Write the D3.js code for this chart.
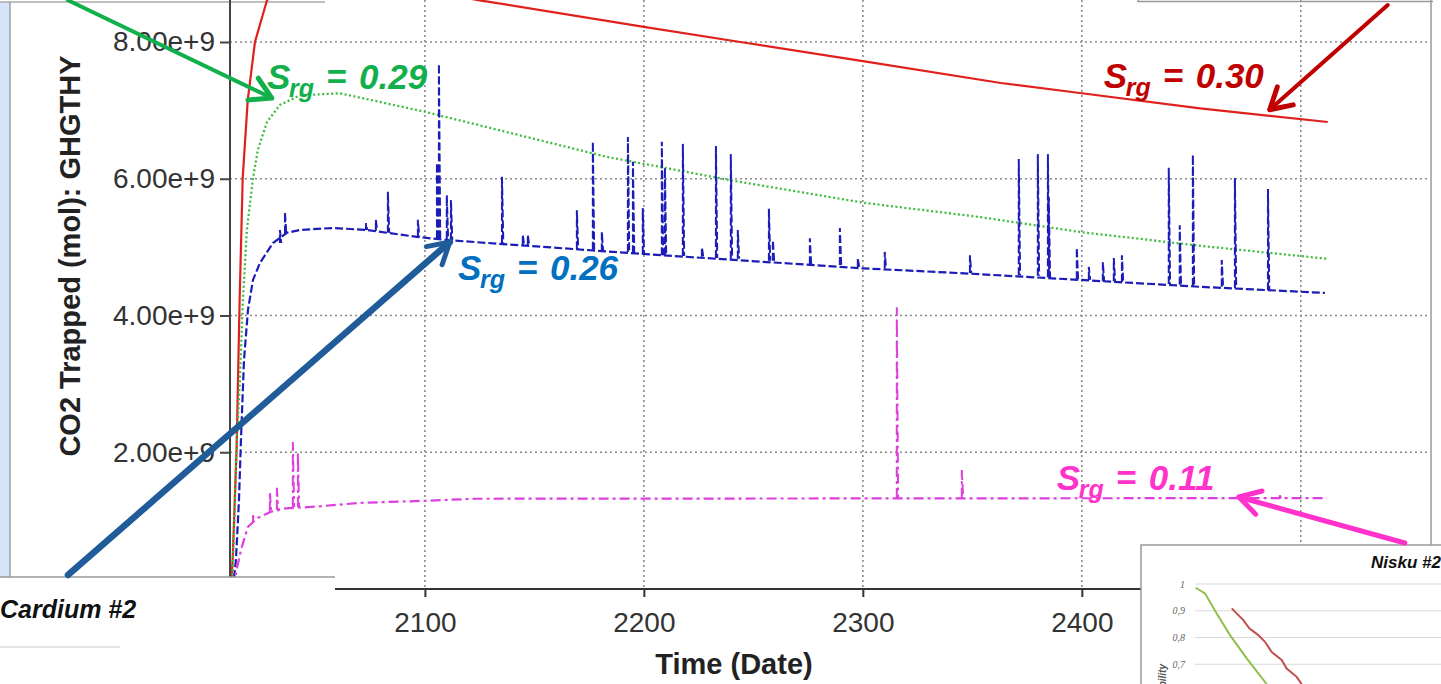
<!DOCTYPE html>
<html>
<head>
<meta charset="utf-8">
<script src="https://cdn.jsdelivr.net/npm/d3@7"></script>
<style>
  body { margin: 0; background: #fff; }
  svg { display: block; }
</style>
</head>
<body>
<svg id="chart" width="1441" height="684"></svg>
<script>
// ---- data (values in 1e9 mol, x in years) ----
const xTicks = [2100, 2200, 2300, 2400, 2500];
const yTicks = [2, 4, 6, 8];

// Srg = 0.30, solid red
const red030 = [
  [2011.3, 0], [2012.2, 0.42], [2014.0, 2.03], [2015.4, 4.23], [2016.8, 6.01],
  [2019.1, 7.15], [2022.4, 8.0], [2027.9, 8.61], [2040, 8.95], [2055, 9.0],
  [2075, 8.88], [2125, 8.61], [2200, 8.22], [2244, 8.0],
  [2300, 7.72], [2363, 7.40], [2400, 7.25], [2454, 7.03], [2512.3, 6.83]
];

// Srg = 0.29, dotted green
const green029 = [
  [2011.9, 0], [2013.0, 1.01], [2013.9, 2.03], [2015.5, 3.06], [2016.9, 4.23],
  [2018.7, 5.25], [2021.5, 6.01], [2023.7, 6.42], [2027.9, 6.83], [2033.8, 7.08],
  [2042.9, 7.22], [2061.2, 7.25], [2100, 6.98], [2183.1, 6.32], [2239.3, 5.98],
  [2300, 5.65], [2353.4, 5.44], [2399.5, 5.22], [2453.9, 5.02], [2511.9, 4.83]
];

// Srg = 0.26, dashed blue
const blue026 = [
  [2012.3, 0], [2013.7, 0.42], [2015.1, 1.30], [2016.0, 2.18], [2017.4, 3.35],
  [2019.2, 4.08], [2021.5, 4.52], [2024.7, 4.77], [2030.6, 5.06], [2037.0, 5.21],
  [2042.9, 5.25], [2058.0, 5.28], [2073.5, 5.25], [2096.3, 5.15], [2111.4, 5.10],
  [2199.5, 4.90], [2300, 4.69], [2344.3, 4.62], [2399.5, 4.52], [2453.9, 4.42],
  [2511.0, 4.33]
];

// spikes: [year, base, peak]
const blueSpikes = [
  [2033.8, 5.06, 5.25], [2036.1, 5.20, 5.51], [2073.1, 5.25, 5.35], [2077.6, 5.24, 5.40],
  [2083.1, 5.21, 5.81], [2096.8, 5.15, 5.40], [2105.5, 5.13, 6.23], [2106.4, 5.13, 7.68],
  [2110.0, 5.12, 5.76], [2111.9, 5.10, 5.69], [2135.2, 5.06, 6.03], [2144.7, 5.03, 5.18],
  [2147.0, 5.03, 5.18], [2169.4, 4.97, 5.54], [2176.7, 4.96, 6.54], [2180.8, 4.94, 5.22],
  [2192.7, 4.93, 6.61], [2195.0, 4.91, 6.25], [2199.5, 4.90, 5.57], [2208.2, 4.88, 6.54],
  [2209.6, 4.88, 6.16], [2217.8, 4.87, 6.51], [2226.5, 4.86, 5.00], [2232.9, 4.84, 6.48],
  [2239.7, 4.83, 6.36], [2242.9, 4.83, 5.25], [2257.1, 4.80, 5.56], [2258.9, 4.80, 5.10],
  [2275.8, 4.75, 5.13], [2289.5, 4.74, 5.28], [2297.7, 4.71, 4.84], [2310.0, 4.69, 4.93],
  [2348.9, 4.62, 4.88], [2371.2, 4.59, 6.29], [2379.9, 4.58, 6.36], [2384.5, 4.56, 6.36],
  [2384.9, 4.56, 5.73], [2397.7, 4.53, 4.99], [2403.2, 4.52, 4.71], [2409.6, 4.50, 4.78],
  [2414.6, 4.50, 4.84], [2418.3, 4.49, 4.88], [2439.7, 4.46, 6.16], [2444.7, 4.45, 5.32],
  [2450.7, 4.43, 6.35], [2463.9, 4.42, 4.81], [2469.9, 4.40, 6.01], [2485.0, 4.37, 5.85]
];

// Srg = 0.11, dash-dot magenta
const magenta011 = [
  [2012.8, 0], [2013.7, 0.23], [2016.0, 0.57], [2019.2, 0.91], [2023.7, 1.04],
  [2029.7, 1.13], [2036.5, 1.18], [2047.9, 1.20], [2070.8, 1.26], [2100, 1.29],
  [2122.8, 1.32], [2511.9, 1.33]
];

const magentaSpikes = [
  [2021.5, 0.98, 1.08], [2029.2, 1.13, 1.42], [2032.4, 1.16, 1.48], [2039.7, 1.20, 2.15],
  [2042.0, 1.20, 2.00], [2315.5, 1.33, 4.12], [2345.2, 1.33, 1.74], [2490.4, 1.33, 1.37]
];

// annotations: label position and arrow tail/tip, all in data space
const labelText = ['0.30', '0.29', '0.26', '0.11'];
const labelColors = ['#c00000', '#12b04c', '#0070c0', '#ff33cc'];
const arrowColors = ['#c00000', '#12b04c', '#1f5c99', '#ff33cc'];
const labelPos = [[2410.0, 7.33], [2027.9, 7.31], [2115.1, 4.52], [2388.6, 1.45]];
const arrowTail = [[2539.7, 8.54], [1937.0, 8.61], [1937.0, 0.205], [2547.5, 0.673]];
const arrowTip = [[2485.8, 7.01], [2030.1, 7.18], [2111.4, 5.075], [2471.7, 1.345]];
const arrowWidth = [4, 4, 6.5, 5];

// Nisku #2 inset (relative permeability)
const niskuTicks = [1, 0.9, 0.8, 0.7];
const niskuGrid = [1, 0.9, 0.8, 0.7, 0.6];
const niskuGreen = [
  [0.0014, 0.986], [0.0206, 0.965], [0.0447, 0.890], [0.0722, 0.809],
  [0.1066, 0.722], [0.1478, 0.626]
];
const niskuRed = [
  [0.0757, 0.909], [0.0996, 0.865], [0.1120, 0.834], [0.1305, 0.809], [0.1443, 0.784],
  [0.1581, 0.746], [0.1787, 0.716], [0.1890, 0.684], [0.2096, 0.653], [0.2200, 0.626]
];

// ---- layout ----
const W = 1441, H = 684;
const axisFont = "'Liberation Sans', Arial, sans-serif";
const svg = d3.select('#chart');

const x = d3.scaleLinear().domain([2011, 2559]).range([230, 1430]);
const y = d3.scaleLinear().domain([0, 8]).range([589, 42]);
const line = d3.line().x(d => x(d[0])).y(d => y(d[1]));

svg.append('rect').attr('width', W).attr('height', H).attr('fill', '#fff');

// window edge on the left
svg.append('rect').attr('x', 0).attr('y', 2).attr('width', 10).attr('height', 575).attr('fill', '#d5e4f6');
svg.append('line').attr('x1', 10).attr('x2', 10).attr('y1', 2).attr('y2', 577).attr('stroke', '#9aa3ad').attr('stroke-width', 1.5);
svg.append('line').attr('x1', 0).attr('x2', 325).attr('y1', 2).attr('y2', 2).attr('stroke', '#aaa').attr('stroke-width', 1.5);

// grid
const grid = svg.append('g').attr('stroke', '#8a8a8a').attr('stroke-width', 1.6).attr('stroke-dasharray', '2,3');
grid.selectAll('.gx').data(xTicks).enter().append('line')
  .attr('x1', d => x(d)).attr('x2', d => x(d)).attr('y1', 0).attr('y2', 589);
grid.selectAll('.gy').data(yTicks).enter().append('line')
  .attr('x1', 230).attr('x2', 1430).attr('y1', d => y(d)).attr('y2', d => y(d));

// plot frame (right side)
svg.append('line').attr('x1', 1431).attr('x2', 1431).attr('y1', 0).attr('y2', 589).attr('stroke', '#999').attr('stroke-width', 1.5);

// series
svg.append('clipPath').attr('id', 'plotclip')
  .append('rect').attr('x', 231).attr('y', 0).attr('width', 1199).attr('height', 589);
const plot = svg.append('g').attr('clip-path', 'url(#plotclip)').attr('fill', 'none');

const series = [
  { data: red030, spikes: [], color: '#e0201c', dash: null, width: 2.2 },
  { data: green029, spikes: [], color: '#3dbb3d', dash: '2,2.5', width: 2.3 },
  { data: blue026, spikes: blueSpikes, color: '#1c1cb8', dash: '8,3', width: 2.2 },
  { data: magenta011, spikes: magentaSpikes, color: '#dd3fdd', dash: '10,4,3,4', width: 2.2 }
];

for (const s of series) {
  const g = plot.append('g')
    .attr('stroke', s.color)
    .attr('stroke-width', s.width)
    .attr('stroke-dasharray', s.dash);
  g.append('path').attr('d', line(s.data));
  g.selectAll('.spike').data(s.spikes).enter().append('path')
    .attr('stroke-width', 2)
    .attr('d', d => line([[d[0], d[1]], [d[0], d[2]], [d[0] + 0.6, d[1]]]));
}

// axes
svg.append('line').attr('x1', 230).attr('x2', 230).attr('y1', 0).attr('y2', 577)
  .attr('stroke', '#444').attr('stroke-width', 2);
svg.append('line').attr('x1', 335).attr('x2', 1141).attr('y1', 589).attr('y2', 589)
  .attr('stroke', '#333').attr('stroke-width', 2);

const yAxis = svg.append('g').attr('transform', 'translate(230,0)')
  .call(d3.axisLeft(y).tickValues(yTicks).tickSize(10).tickPadding(5)
    .tickFormat(d => d3.format('.2e')(d * 1e9)));
yAxis.select('.domain').remove();
yAxis.selectAll('line').attr('stroke', '#444').attr('stroke-width', 2);
yAxis.selectAll('text').attr('font-family', axisFont).attr('font-size', 28).attr('fill', '#333');

const xAxis = svg.append('g').attr('transform', 'translate(0,589)')
  .call(d3.axisBottom(x).tickValues(xTicks).tickSize(8).tickPadding(15).tickFormat(d3.format('d')));
xAxis.select('.domain').remove();
xAxis.selectAll('line').attr('stroke', '#333').attr('stroke-width', 2);
xAxis.selectAll('text').attr('font-family', axisFont).attr('font-size', 28).attr('fill', '#333');

// axis titles
svg.append('text')
  .attr('transform', 'translate(80,256) rotate(-90)')
  .attr('text-anchor', 'middle')
  .attr('font-family', axisFont).attr('font-weight', 'bold').attr('font-size', 29)
  .attr('fill', '#222')
  .text('CO2 Trapped (mol): GHGTHY');

svg.append('text')
  .attr('x', 734).attr('y', 674)
  .attr('text-anchor', 'middle')
  .attr('font-family', axisFont).attr('font-weight', 'bold').attr('font-size', 29)
  .attr('fill', '#222')
  .text('Time (Date)');

// top-right overlapping box edge
svg.append('path').attr('d', 'M1138,0 V1.5 H1433').attr('fill', 'none').attr('stroke', '#999').attr('stroke-width', 1.5);

// Cardium #2 box (overlay, bottom left)
svg.append('rect').attr('x', 0).attr('y', 577).attr('width', 335).attr('height', 107).attr('fill', '#fff');
svg.append('line').attr('x1', 0).attr('x2', 335).attr('y1', 577).attr('y2', 577).attr('stroke', '#999').attr('stroke-width', 1.5);
svg.append('text').attr('x', 0).attr('y', 618)
  .attr('font-family', axisFont).attr('font-weight', 'bold').attr('font-style', 'italic')
  .attr('font-size', 25).attr('fill', '#111').text('Cardium #2');
svg.append('line').attr('x1', 0).attr('x2', 120).attr('y1', 647).attr('y2', 647).attr('stroke', '#ccc').attr('stroke-width', 1);

// Nisku #2 inset box (overlay, bottom right)
const inset = svg.append('g');
inset.append('rect').attr('x', 1141).attr('y', 545).attr('width', 310).attr('height', 150)
  .attr('fill', '#fff').attr('stroke', '#999').attr('stroke-width', 1.5);
const nx = d3.scaleLinear().domain([0, 1]).range([1195, 1680]);
const ny = d3.scaleLinear().domain([0.6, 1]).range([691, 584]);
inset.selectAll('.ng').data(niskuGrid).enter().append('line')
  .attr('x1', 1195).attr('x2', 1441).attr('y1', d => ny(d)).attr('y2', d => ny(d))
  .attr('stroke', '#d9d9d9').attr('stroke-width', 1.2);
inset.selectAll('.nt').data(niskuTicks).enter().append('text')
  .attr('x', 1185).attr('y', d => ny(d) + 3.5).attr('text-anchor', 'end')
  .attr('font-family', "'Liberation Serif', serif").attr('font-style', 'italic')
  .attr('font-size', 10).attr('fill', '#666')
  .text(d => d === 1 ? '1' : String(d).replace('.', ','));
const nline = d3.line().x(d => nx(d[0])).y(d => ny(d[1]));
inset.append('path').attr('d', nline(niskuGreen)).attr('fill', 'none').attr('stroke', '#8fbf4d').attr('stroke-width', 2);
inset.append('path').attr('d', nline(niskuRed)).attr('fill', 'none').attr('stroke', '#c0504d').attr('stroke-width', 2);
inset.append('text')
  .attr('transform', 'translate(1166,664) rotate(-90)')
  .attr('text-anchor', 'end')
  .attr('font-family', axisFont).attr('font-weight', 'bold').attr('font-style', 'italic')
  .attr('font-size', 10).attr('fill', '#555')
  .text('Relative Permeability');
inset.append('text').attr('x', 1441).attr('y', 568).attr('text-anchor', 'end')
  .attr('font-family', axisFont).attr('font-weight', 'bold').attr('font-style', 'italic')
  .attr('font-size', 17).attr('fill', '#111').text('Nisku #2');

// arrows with open heads
const ann = svg.append('g').attr('fill', 'none').attr('stroke-linecap', 'round');
labelText.forEach((t, i) => {
  const x0 = x(arrowTail[i][0]), y0 = y(arrowTail[i][1]);
  const x1 = x(arrowTip[i][0]), y1 = y(arrowTip[i][1]);
  const a = Math.atan2(y1 - y0, x1 - x0) + Math.PI;
  const L = 24, spread = Math.PI / 6;
  const b1 = [x1 + L * Math.cos(a + spread), y1 + L * Math.sin(a + spread)];
  const b2 = [x1 + L * Math.cos(a - spread), y1 + L * Math.sin(a - spread)];
  const g = ann.append('g').attr('stroke', arrowColors[i]).attr('stroke-width', arrowWidth[i]);
  g.append('line').attr('x1', x0).attr('y1', y0).attr('x2', x1).attr('y2', y1);
  g.append('path').attr('d', `M${b1[0]},${b1[1]} L${x1},${y1} L${b2[0]},${b2[1]}`)
    .attr('stroke-linejoin', 'round').attr('stroke-width', 5);
});

// S_rg labels
labelText.forEach((t, i) => {
  const lx = x(labelPos[i][0]), ly = y(labelPos[i][1]);
  const txt = svg.append('text')
    .attr('font-family', axisFont).attr('font-weight', 'bold').attr('font-style', 'italic')
    .attr('fill', labelColors[i]);
  txt.append('tspan').attr('x', lx).attr('y', ly).attr('font-size', 35).text('S');
  txt.append('tspan').attr('x', lx + 22).attr('y', ly + 8).attr('font-size', 25).text('rg');
  txt.append('tspan').attr('x', lx + 59).attr('y', ly).attr('font-size', 35).text('=');
  txt.append('tspan').attr('x', lx + 92).attr('y', ly).attr('font-size', 35).text(t);
});
</script>
</body>
</html>
